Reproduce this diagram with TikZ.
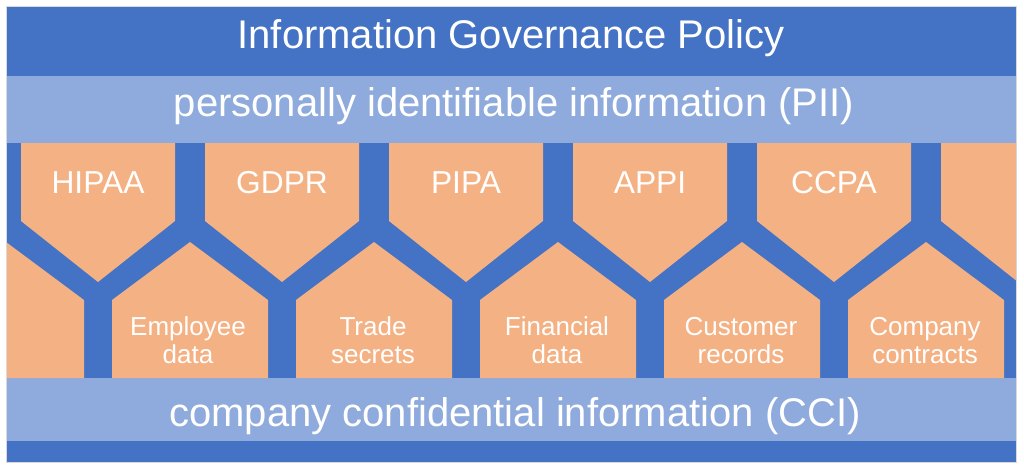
\documentclass[tikz,border=0pt]{standalone}
\usepackage{fontspec}
\setmainfont{Liberation Sans}
\definecolor{bandDark}{RGB}{68,114,196}
\definecolor{bandLight}{RGB}{143,170,220}
\definecolor{cellOrange}{RGB}{244,177,131}

\begin{document}
\begin{tikzpicture}[x=0.75pt,y=0.75pt,yscale=-1,xscale=1,
  bandtext/.style={text=white,inner sep=0pt,anchor=base,font=\fontsize{30}{36}\selectfont},
  lawtext/.style={text=white,inner sep=0pt,anchor=base,font=\fontsize{23.8}{28}\selectfont},
  datatext/.style={text=white,inner sep=0pt,anchor=base,align=center,font=\fontsize{19.5}{21}\selectfont}]
\useasboundingbox (0,0) rectangle (1024,469);

%Shape: Rectangle [frame]
\draw [color=black!15] (6.5,6.5) rectangle (1016.5,462.5);
%Shape: Rectangle [top band]
\fill [bandDark] (7,7) rectangle (1016,76);
%Shape: Rectangle [PII band]
\fill [bandLight] (7,76) rectangle (1016,143);
%Shape: Rectangle [cell area]
\fill [bandDark] (7,143) rectangle (1016,378);
%Shape: Rectangle [CCI band]
\fill [bandLight] (7,378) rectangle (1016,441);
%Shape: Rectangle [bottom band]
\fill [bandDark] (7,441) rectangle (1016,462);

%Shape: Pentagons
\begin{scope}
\clip (7,143) rectangle (1016,378);
\foreach \cx in {98,282,466,650,834,1018}
  \fill [cellOrange] (\cx-77,143) -- (\cx+77,143) -- (\cx+77,221) -- (\cx,282) -- (\cx-77,221) -- cycle ;
\foreach \cx in {6,190,374,558,742,926}
  \fill [cellOrange] (\cx-78,378) -- (\cx-78,300) -- (\cx,242) -- (\cx+78,300) -- (\cx+78,378) -- cycle ;
\end{scope}

% Text Node
\node [bandtext] (title) at (511,48) {Information Governance Policy};
% Text Node
\node [bandtext] (pii) at (514,116) {personally identifiable information (PII)};
% Text Node
\node [bandtext] (cci) at (515,426.5) {company confidential information (CCI)};
% Text Node
\node [lawtext] (hipaa) at (98,193) {HIPAA};
% Text Node
\node [lawtext] (gdpr) at (282,193) {GDPR};
% Text Node
\node [lawtext] (pipa) at (466,193) {PIPA};
% Text Node
\node [lawtext] (appi) at (650,193) {APPI};
% Text Node
\node [lawtext] (ccpa) at (834,193) {CCPA};
% Text Node
\node [datatext] (employee) at (188,363) {Employee\\data};
% Text Node
\node [datatext] (trade) at (373,363) {Trade\\secrets};
% Text Node
\node [datatext] (financial) at (557,363) {Financial\\data};
% Text Node
\node [datatext] (customer) at (741,363) {Customer\\records};
% Text Node
\node [datatext] (contracts) at (925,363) {Company\\contracts};

\end{tikzpicture}
\end{document}
